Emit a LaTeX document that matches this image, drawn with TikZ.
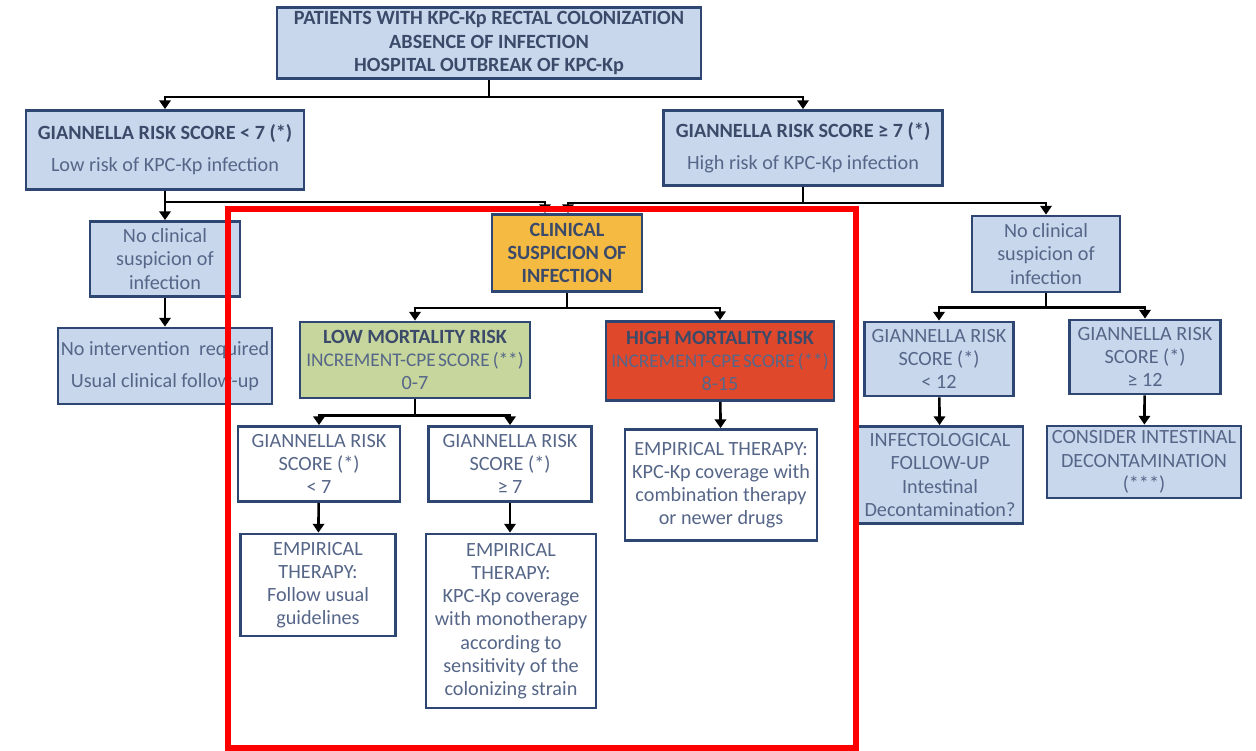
\documentclass[tikz,border=0pt]{standalone}
\usepackage{fontspec}
\setmainfont{Carlito}
\usetikzlibrary{arrows.meta,calc}
\definecolor{bfill}{RGB}{200,215,236}
\definecolor{bdraw}{RGB}{46,70,114}
\definecolor{btext}{RGB}{60,74,106}
\definecolor{ltext}{RGB}{86,102,136}
\definecolor{yfill}{RGB}{245,186,66}
\definecolor{gfill}{RGB}{198,214,156}
\definecolor{rfill}{RGB}{224,72,44}
\newcommand{\incline}{{\fontsize{11}{13.2}\selectfont INCREMENT-CPE\kern0.12em SCORE\kern0.15em(**)}}
\begin{document}
\begin{tikzpicture}[x=0.02cm,y=-0.02cm,
  box/.style={draw=bdraw,line width=1.6pt,fill=bfill,align=center,inner sep=1pt,
    font=\fontsize{11.5}{13.2}\selectfont,text=ltext},
  wbox/.style={box,fill=white},
  wh/.style 2 args={minimum width=#1*0.02cm,minimum height=#2*0.02cm},
  ln/.style={line width=1.5pt,black},
  arr/.style={ln,-{Triangle[width=6.5pt,length=5pt]}}]
\useasboundingbox (0,0) rectangle (1256,750);

\node[box,wh={424}{71},text=btext,font=\bfseries\fontsize{11.5}{13.2}\selectfont] (top) at (489,43)
  {PATIENTS WITH KPC-Kp RECTAL COLONIZATION\\ABSENCE OF INFECTION\\HOSPITAL OUTBREAK OF KPC-Kp};
\node[box,wh={278}{79}] (gl) at (165,150)
  {\textcolor{btext}{\bfseries GIANNELLA RISK SCORE < 7 (*)}\\[5pt]Low risk of KPC-Kp infection};
\node[box,wh={279}{75}] (gr) at (803,148)
  {\textcolor{btext}{\bfseries GIANNELLA RISK SCORE ≥ 7 (*)}\\[5pt]High risk of KPC-Kp infection};
\node[box,wh={150}{75}] (nl) at (165,259) {No clinical\\suspicion of\\infection};
\node[box,wh={214}{76}] (ni) at (165,366) {No intervention\ \ required\\[5pt]Usual clinical follow-up};
\node[box,wh={150}{77},fill=yfill,text=btext,font=\bfseries\fontsize{11.5}{13.2}\selectfont] (clin) at (567,253)
  {CLINICAL\\SUSPICION OF\\INFECTION};
\node[box,wh={230}{76},fill=gfill] (lm) at (415,360)
  {\textcolor{btext}{\bfseries LOW MORTALITY RISK}\\\incline\\0-7};
\node[box,wh={228}{79},fill=rfill] (hm) at (720,361)
  {\textcolor{btext}{\bfseries HIGH MORTALITY RISK}\\\incline\\8-15};
\node[wbox,wh={162}{75}] (g7a) at (319,464) {GIANNELLA RISK\\SCORE (*)\\< 7};
\node[wbox,wh={163}{75}] (g7b) at (510,464) {GIANNELLA RISK\\SCORE (*)\\≥ 7};
\node[wbox,wh={155}{102}] (e1) at (318,585) {EMPIRICAL\\THERAPY:\\Follow usual\\guidelines};
\node[wbox,wh={170}{174}] (e2) at (511,621) {EMPIRICAL\\THERAPY:\\KPC-Kp coverage\\with monotherapy\\according to\\sensitivity of the\\colonizing strain};
\node[wbox,wh={192}{111}] (e3) at (721,485) {EMPIRICAL THERAPY:\\KPC-Kp coverage with\\combination therapy\\or newer drugs};
\node[box,wh={148}{76}] (nr) at (1046,254) {No clinical\\suspicion of\\infection};
\node[box,wh={149}{74}] (g12a) at (939,359) {GIANNELLA RISK\\SCORE (*)\\< 12};
\node[box,wh={151}{74}] (g12b) at (1145,357) {GIANNELLA RISK\\SCORE (*)\\≥ 12};
\node[box,wh={166}{97}] (inf) at (940,475) {INFECTOLOGICAL\\FOLLOW-UP\\Intestinal\\Decontamination?};
\node[box,wh={194}{72}] (dec) at (1144,462) {CONSIDER INTESTINAL\\DECONTAMINATION\\(***)};

% connectors
\draw[ln] (top.south) -- ++(0,17) coordinate (tj);
\draw[arr] (tj) -| (gl.north);
\draw[arr] (tj) -| (gr.north);
\draw[ln] (gl.south) -- ++(0,11) coordinate (lj);
\draw[arr] (lj) -- (nl.north);
\draw[arr] (lj) -| ($(clin.north)+(-22,0)$);
\draw[ln] (gr.south) -- ++(0,16) coordinate (rj);
\draw[arr] (rj) -| ($(clin.north)+(1,0)$);
\draw[arr] (rj) -| (nr.north);
\draw[arr] (nl) -- (ni);
\draw[ln] (clin.south) -- ++(0,15) coordinate (cj);
\draw[arr] (cj) -| (lm.north);
\draw[arr] (cj) -| (hm.north);
\draw[ln] (lm.south) -- ++(0,16) coordinate (mj);
\draw[arr] (mj) -| (g7a.north);
\draw[arr] (mj) -| (g7b.north);
\draw[arr] (hm) -- (e3);
\draw[arr] (g7a) -- (e1);
\draw[arr] (g7b.south) -- (g7b.south |- e2.north);
\draw[ln] (nr.south) -- ++(0,14) coordinate (nj);
\draw[arr] (nj) -| (g12a.north);
\draw[arr] (nj) -| (g12b.north);
\draw[arr] (g12a) -- (inf);
\draw[arr] (g12b) -- (dec);

% highlight frame
\draw[red,line width=3pt] (228,209) rectangle (856,748);
\end{tikzpicture}
\end{document}
